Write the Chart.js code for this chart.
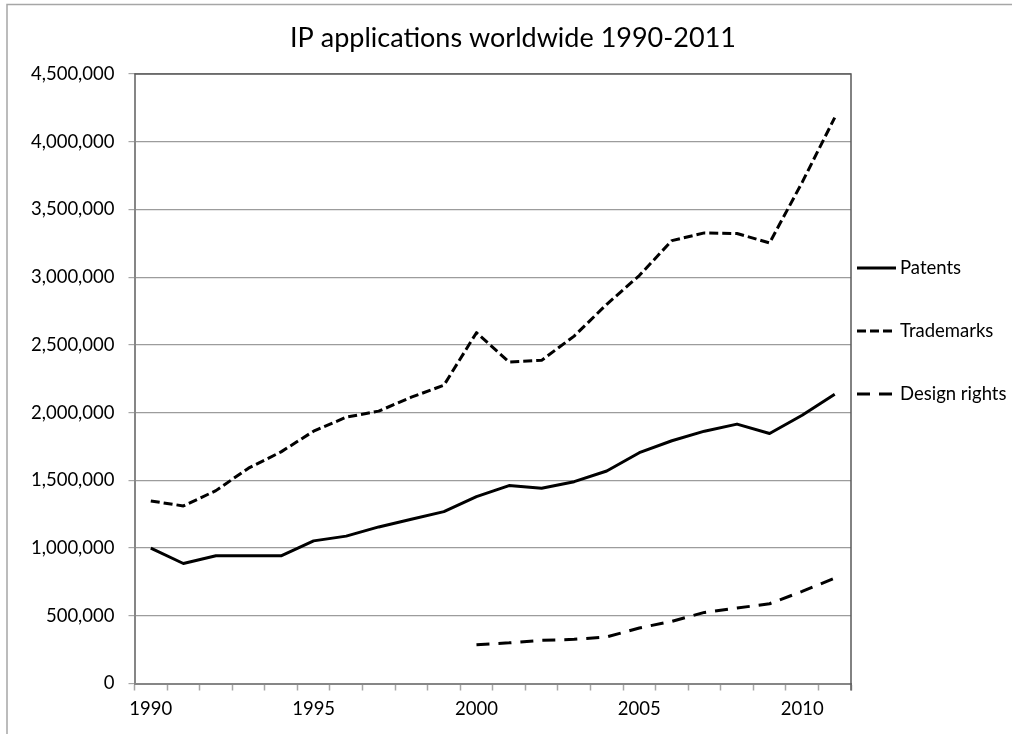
<!DOCTYPE html>
<html>
<head>
<meta charset="utf-8">
<script src="https://cdn.jsdelivr.net/npm/chart.js@4/dist/chart.umd.min.js"></script>
<style>
  html, body { margin: 0; padding: 0; background: #fff; }
  #wrap { width: 1012px; height: 734px; position: relative; }
</style>
</head>
<body>
<div id="wrap"><canvas id="ipChart" width="1012" height="734"></canvas></div>
<script>
// IP applications worldwide, 1990-2011
var years = ["1990","1991","1992","1993","1994","1995","1996","1997","1998","1999","2000",
             "2001","2002","2003","2004","2005","2006","2007","2008","2009","2010","2011"];

var patents = [1000000, 886000, 943000, 943000, 943000, 1053000, 1088000, 1156000, 1213000, 1269000, 1380000,
               1461000, 1441000, 1490000, 1569000, 1704000, 1792000, 1863000, 1915000, 1846000, 1981000, 2136000];

var trademarks = [1348000, 1311000, 1424000, 1590000, 1710000, 1863000, 1966000, 2011000, 2114000, 2202000, 2590000,
                  2374000, 2386000, 2565000, 2800000, 3012000, 3270000, 3327000, 3322000, 3253000, 3700000, 4178000];

var designRights = [null, null, null, null, null, null, null, null, null, null, 287000,
                    300000, 319000, 326000, 344000, 410000, 459000, 525000, 557000, 589000, 680000, 778000];

var seriesNames = ["Patents", "Trademarks", "Design rights"];
var yTicks = [0, 500000, 1000000, 1500000, 2000000, 2500000, 3000000, 3500000, 4000000, 4500000];

var FONT = "Lato, 'Open Sans', sans-serif";

// outer frame, title, plot border and legend are painted by hand
var decorations = {
    id: "decorations",
    beforeDraw: function(chart) {
        var ctx = chart.ctx;
        ctx.save();
        ctx.strokeStyle = "#a6a6a6";
        ctx.lineWidth = 1.5;
        ctx.beginPath();
        ctx.moveTo(7, 734);
        ctx.lineTo(7, 4.5);
        ctx.lineTo(1012, 4.5);
        ctx.stroke();

        ctx.fillStyle = "#000";
        ctx.font = "27px " + FONT;
        ctx.textAlign = "center";
        ctx.textBaseline = "middle";
        ctx.fillText("IP applications worldwide 1990-2011", 513, 38);
        ctx.restore();
    },
    afterDraw: function(chart) {
        var ctx = chart.ctx;
        var a = chart.chartArea;
        ctx.save();
        ctx.strokeStyle = "#595959";
        ctx.lineWidth = 1.5;
        ctx.beginPath();
        ctx.moveTo(a.left, a.top);
        ctx.lineTo(a.right, a.top);
        ctx.lineTo(a.right, a.bottom + 7);
        ctx.stroke();

        var rows = [268, 331, 394];
        ctx.font = "18.5px " + FONT;
        ctx.textBaseline = "middle";
        ctx.textAlign = "left";
        chart.data.datasets.forEach(function(ds, i) {
            ctx.strokeStyle = "#000";
            ctx.lineWidth = 3;
            ctx.setLineDash(ds.borderDash || []);
            ctx.beginPath();
            ctx.moveTo(857, rows[i]);
            ctx.lineTo(896, rows[i]);
            ctx.stroke();
            ctx.setLineDash([]);
            ctx.fillStyle = "#000";
            ctx.fillText(ds.label, 900, rows[i]);
        });
        ctx.restore();
    }
};

new Chart(document.getElementById("ipChart"), {
    type: "line",
    data: {
        labels: years,
        datasets: [
            {label: seriesNames[0], data: patents, borderColor: "#000", borderWidth: 3, borderDash: []},
            {label: seriesNames[1], data: trademarks, borderColor: "#000", borderWidth: 3, borderDash: [9, 4]},
            {label: seriesNames[2], data: designRights, borderColor: "#000", borderWidth: 3, borderDash: [13, 9]}
        ]
    },
    options: {
        responsive: false,
        animation: false,
        layout: {padding: {top: 74, right: 161, left: 0, bottom: 0}},
        elements: {
            point: {radius: 0, hoverRadius: 0},
            line: {tension: 0, borderJoinStyle: "round", fill: false}
        },
        plugins: {
            legend: {display: false},
            title: {display: false},
            tooltip: {enabled: false}
        },
        scales: {
            x: {
                type: "category",
                offset: true,
                grid: {offset: true, drawOnChartArea: false, drawTicks: true, tickLength: 7, tickColor: "#a6a6a6", tickWidth: 1.5},
                border: {color: "#868686", width: 2},
                ticks: {
                    autoSkip: false,
                    maxRotation: 0,
                    padding: 7,
                    color: "#000",
                    font: {family: FONT, size: 18.5},
                    callback: function(v, i) {
                        var y = years[i];
                        return (+y % 5 === 0) ? y : "";
                    }
                },
                afterFit: function(scale) { scale.height = 50.5; }
            },
            y: {
                min: yTicks[0],
                max: yTicks[yTicks.length - 1],
                afterBuildTicks: function(scale) {
                    scale.ticks = yTicks.map(function(v) { return {value: v}; });
                },
                grid: {color: "#9c9c9c", lineWidth: 1.2, tickLength: 6, tickColor: "#a6a6a6"},
                border: {color: "#868686", width: 2},
                ticks: {
                    padding: 14,
                    color: "#000",
                    font: {family: FONT, size: 18.5},
                    callback: function(v) { return Number(v).toLocaleString("en-US"); }
                },
                afterFit: function(scale) { scale.width = 134.5; }
            }
        }
    },
    plugins: [decorations]
});
</script>
</body>
</html>
